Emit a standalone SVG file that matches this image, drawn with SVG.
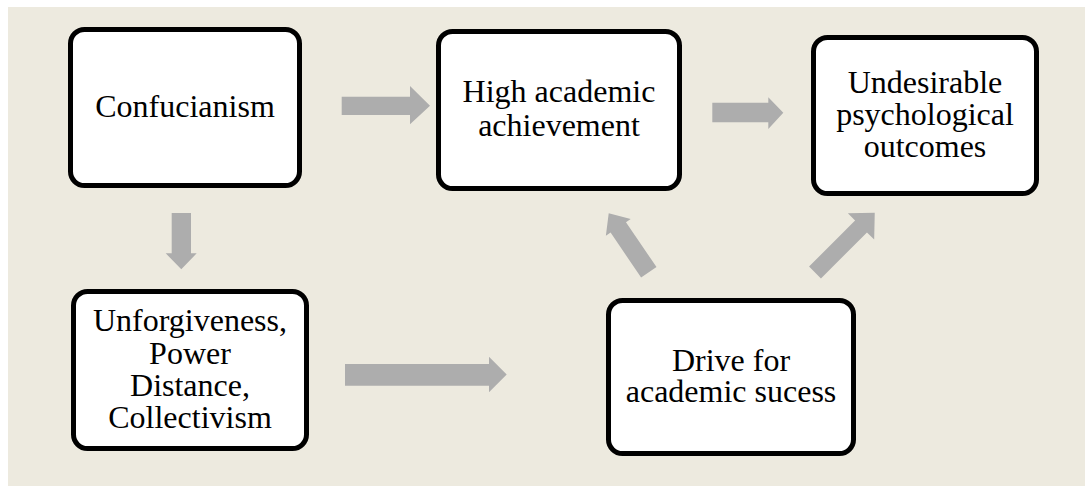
<svg xmlns="http://www.w3.org/2000/svg" width="1085" height="486" viewBox="0 0 1085 486">
<style>
.box{fill:#ffffff;stroke:#000000;stroke-width:5}
.lbl{font-family:"Liberation Serif","Times New Roman",serif;font-size:32px;fill:#000000;text-anchor:middle}
.arr{fill:#ADADAD}
</style>
<rect x="0" y="0" width="1085" height="486" fill="#ffffff"/>
<rect x="8" y="7" width="1077" height="479" fill="#EDEADF"/>
<g id="connectors">
<polygon class="arr" points="341.7,96.7 410,96.7 410,86 430,105.7 410,124.3 410,115 341.7,115"/>
<polygon class="arr" points="712.3,102.7 768.3,102.7 768.3,97.3 783.3,112.7 768.3,129 768.3,122.3 712.3,122.3"/>
<polygon class="arr" points="171.7,213 191,213 191,253.3 196.7,253.3 181.3,269.3 165.7,253.3 171.7,253.3"/>
<polygon class="arr" points="345,364 489,364 489,356.7 506.7,374.5 489,392.3 489,385.7 345,385.7"/>
<polygon class="arr" transform="translate(648.8 272.3) rotate(-124.2)" points="0,-9.3 54.3,-9.3 54.3,-15 71.3,0 54.3,15 54.3,9.3 0,9.3"/>
<polygon class="arr" transform="translate(815 272.5) rotate(-45)" points="0,-8.4 65.1,-8.4 65.1,-18.6 84.5,0 65.1,18.6 65.1,8.4 0,8.4"/>
</g>
<g id="confucianism">
<rect class="box" x="70.5" y="29.5" width="229" height="156" rx="14"/>
<text class="lbl" x="185" y="117">Confucianism</text>
</g>
<g id="high-achievement">
<rect class="box" x="438.5" y="31.5" width="241" height="157" rx="14"/>
<text class="lbl" x="559" y="102">High academic</text>
<text class="lbl" x="559" y="135.5">achievement</text>
</g>
<g id="undesirable">
<rect class="box" x="813.5" y="37.5" width="223" height="156" rx="14"/>
<text class="lbl" x="925" y="93">Undesirable</text>
<text class="lbl" x="925" y="125">psychological</text>
<text class="lbl" x="925" y="157">outcomes</text>
</g>
<g id="unforgiveness">
<rect class="box" x="73.5" y="291.5" width="233" height="157" rx="14"/>
<text class="lbl" x="190" y="331">Unforgiveness,</text>
<text class="lbl" x="190" y="363.5">Power</text>
<text class="lbl" x="190" y="396">Distance,</text>
<text class="lbl" x="190" y="428">Collectivism</text>
</g>
<g id="drive">
<rect class="box" x="608.5" y="300.5" width="245" height="153" rx="14"/>
<text class="lbl" x="731" y="370.5">Drive for</text>
<text class="lbl" x="731" y="401.5">academic sucess</text>
</g>
</svg>
